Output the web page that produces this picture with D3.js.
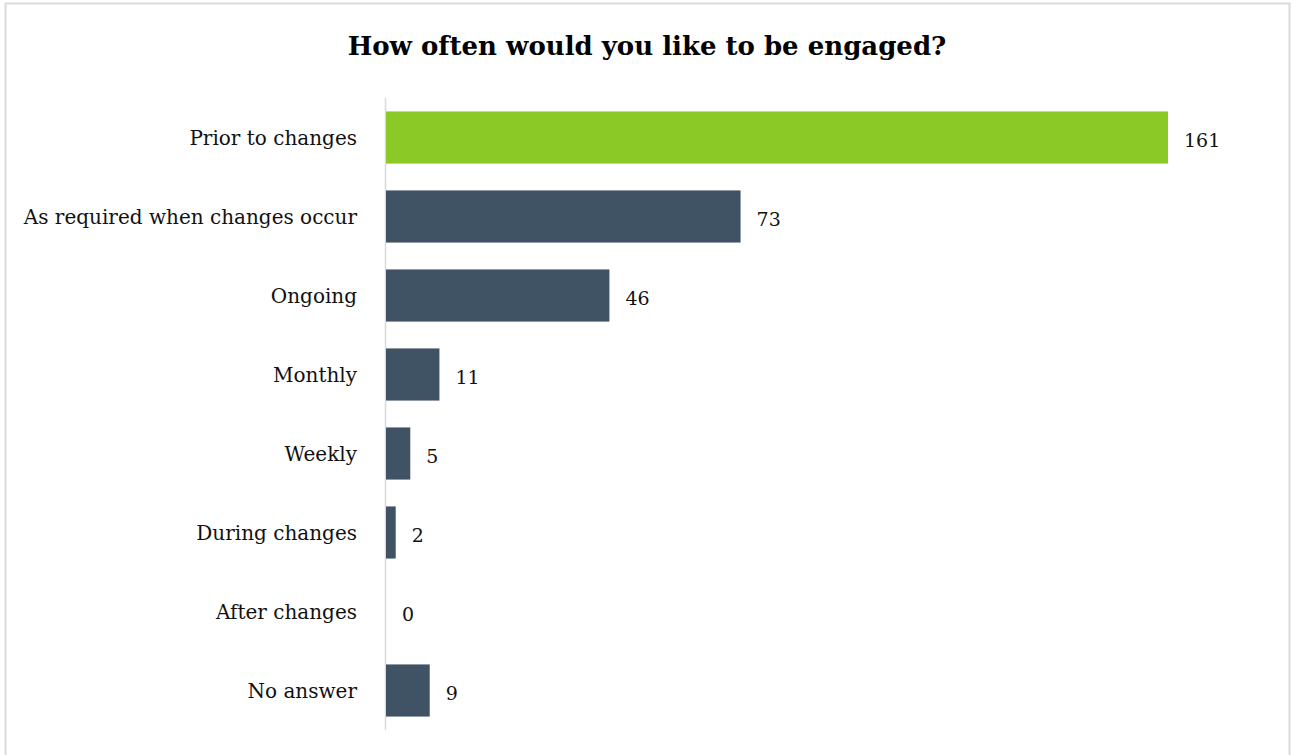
<!DOCTYPE html>
<html>
<head>
<meta charset="utf-8">
<script src="https://cdn.jsdelivr.net/npm/d3@7"></script>
<style>
  html, body { margin: 0; padding: 0; background: #fff; }
  svg { display: block; }
</style>
</head>
<body>
<svg id="chart" width="1296" height="755"></svg>
<script>
// Survey answers, in display order
const categories = [
  "Prior to changes",
  "As required when changes occur",
  "Ongoing",
  "Monthly",
  "Weekly",
  "During changes",
  "After changes",
  "No answer"
];
const responses = [161, 73, 46, 11, 5, 2, 0, 9];
const highlighted = "Prior to changes";
const title = "How often would you like to be engaged?";

const svg = d3.select("#chart");

// Outer frame
svg.append("rect")
  .attr("x", 5.5).attr("y", 3.5)
  .attr("width", 1284).attr("height", 760)
  .attr("fill", "#fff")
  .attr("stroke", "#d9d9d9").attr("stroke-width", 2);

// Title
svg.append("text")
  .attr("x", 647).attr("y", 55)
  .attr("text-anchor", "middle")
  .attr("font-family", "'DejaVu Serif', serif")
  .attr("font-weight", "bold")
  .attr("font-size", 26)
  .attr("fill", "#000")
  .text(title);

const plotLeft = 386, plotTop = 98, plotBottom = 730;
const x = d3.scaleLinear().domain([0, 161]).range([plotLeft, 1168]);
const y = d3.scaleBand().domain(categories).range([plotTop, plotBottom]).paddingInner(0.34).paddingOuter(0.17);

// Category axis line
svg.append("line")
  .attr("x1", plotLeft - 0.5).attr("x2", plotLeft - 0.5)
  .attr("y1", plotTop).attr("y2", plotBottom)
  .attr("stroke", "#d9d9d9").attr("stroke-width", 1.5);

// Bars
svg.append("g").selectAll("rect")
  .data(categories)
  .join("rect")
  .attr("x", x(0))
  .attr("y", d => y(d))
  .attr("width", (d, i) => x(responses[i]) - x(0))
  .attr("height", y.bandwidth())
  .attr("fill", d => d === highlighted ? "#8ac926" : "#405364");

// Category labels
svg.append("g").selectAll("text")
  .data(categories)
  .join("text")
  .attr("x", 357)
  .attr("y", d => y(d) + y.bandwidth() / 2)
  .attr("dy", "0.35em")
  .attr("text-anchor", "end")
  .attr("font-family", "'DejaVu Serif', serif")
  .attr("font-size", 20)
  .attr("fill", "#111")
  .text(d => d);

// Value labels
svg.append("g").selectAll("text")
  .data(categories)
  .join("text")
  .attr("x", (d, i) => x(responses[i]) + 16)
  .attr("y", d => y(d) + y.bandwidth() / 2 + 3)
  .attr("dy", "0.35em")
  .attr("font-family", "'DejaVu Serif', serif")
  .attr("font-size", 19)
  .attr("fill", "#111")
  .text((d, i) => responses[i]);
</script>
</body>
</html>
